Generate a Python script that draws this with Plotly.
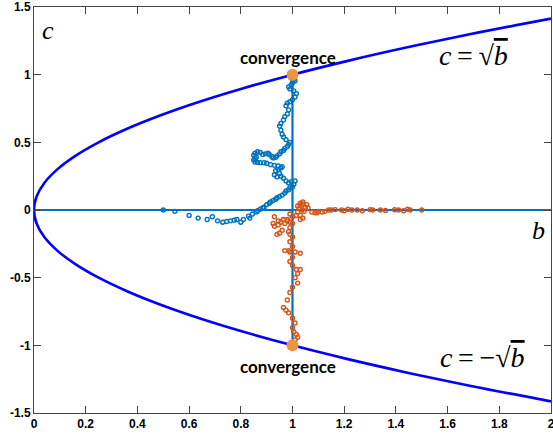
import plotly.graph_objects as go

# ---- data ----
blue_b = [0.50,0.545,0.60,0.635,0.67,0.69,0.71,0.73,0.745,0.76,0.775,0.785,0.80,0.81,0.83,0.835,0.845,0.86,0.865,0.875,
          0.885,0.89,0.90,0.91,0.915,0.925,0.935,0.94,0.95,0.96,0.97,0.975,0.985,0.99,1.0,1.005,1.01,0.995,0.985,0.975,
          0.965,0.955,0.95,0.94,0.93,0.935,0.945,0.955,0.96,0.945,0.93,0.915,0.90,0.89,0.875,0.865,0.855,0.85,0.855,0.86,
          0.85,0.855,0.865,0.875,0.885,0.895,0.905,0.91,0.92,0.925,0.935,0.94,0.95,0.955,0.965,0.97,0.98,0.985,0.99,0.975,
          0.965,0.96,0.955,0.95,0.955,0.965,0.97,0.98,0.985,0.975,0.98,0.99,1.0,1.01,1.015,1.005,0.99,0.985,0.995,1.0,
          1.01,1.005,0.995,1.0,1.005,1.0]
blue_c = [0.0,-0.01,-0.04,-0.06,-0.07,-0.05,-0.08,-0.09,-0.085,-0.08,-0.075,-0.07,-0.09,-0.07,-0.045,-0.06,-0.03,-0.015,-0.005,0.005,
          0.015,0.02,0.04,0.05,0.06,0.07,0.08,0.09,0.10,0.11,0.125,0.14,0.15,0.165,0.17,0.19,0.215,0.21,0.20,0.215,
          0.235,0.25,0.27,0.245,0.26,0.29,0.30,0.31,0.32,0.325,0.33,0.335,0.345,0.35,0.35,0.352,0.355,0.37,0.38,0.39,
          0.405,0.42,0.43,0.425,0.41,0.415,0.42,0.41,0.395,0.385,0.39,0.40,0.415,0.43,0.44,0.455,0.47,0.485,0.50,0.52,
          0.54,0.56,0.59,0.62,0.64,0.665,0.69,0.71,0.74,0.77,0.79,0.80,0.815,0.835,0.86,0.88,0.895,0.91,0.925,0.94,
          0.955,0.965,0.975,0.985,0.99,0.995]

orange_b = [1.50,1.455,1.445,1.43,1.41,1.395,1.36,1.34,1.31,1.30,1.27,1.25,1.23,1.215,1.20,1.19,1.165,1.15,1.14,1.125,
            1.115,1.10,1.095,1.087,1.075,1.06,1.055,1.04,1.03,1.02,1.025,1.037,1.045,1.05,1.04,1.03,1.02,1.03,1.04,1.03,
            1.015,1.0,0.99,0.98,0.965,0.955,0.945,0.93,0.925,0.93,0.945,0.94,0.95,0.96,0.97,0.965,0.98,0.99,1.0,0.99,
            0.985,0.99,1.0,0.99,1.0,0.985,0.97,0.99,1.01,1.03,1.0,0.99,1.0,1.015,1.03,1.02,1.01,1.02,1.0,0.99,
            0.98,0.965,0.975,0.985,1.0,1.01,1.0,1.005,1.015,1.02,1.01,1.0,1.0]
orange_c = [0.0,0.0,0.005,-0.005,0.0,0.002,-0.003,0.0,0.0,0.003,-0.005,0.0,0.0,0.005,-0.005,0.0,0.003,0.0,0.0,-0.01,
            -0.015,-0.01,-0.02,-0.02,-0.015,0.015,0.04,0.06,0.05,0.03,0.01,0.0,-0.01,0.02,0.045,0.035,-0.015,-0.04,-0.06,-0.07,
            -0.04,-0.05,-0.03,-0.07,-0.07,-0.09,-0.08,-0.05,-0.10,-0.12,-0.11,-0.18,-0.17,-0.15,-0.10,-0.07,-0.08,-0.09,-0.10,-0.13,
            -0.16,-0.18,-0.20,-0.235,-0.27,-0.30,-0.30,-0.31,-0.31,-0.32,-0.35,-0.38,-0.41,-0.44,-0.44,-0.47,-0.50,-0.54,-0.57,-0.61,
            -0.665,-0.72,-0.74,-0.76,-0.80,-0.835,-0.87,-0.90,-0.92,-0.94,-0.96,-0.98,-0.99]

curve_c = [-1.414,-1.3,-1.2,-1.1,-1.0,-0.9,-0.8,-0.7,-0.6,-0.5,-0.4,-0.3,-0.2,-0.1,0.0,
           0.1,0.2,0.3,0.4,0.5,0.6,0.7,0.8,0.9,1.0,1.1,1.2,1.3,1.414]
curve_b = [2.0,1.69,1.44,1.21,1.0,0.81,0.64,0.49,0.36,0.25,0.16,0.09,0.04,0.01,0.0,
           0.01,0.04,0.09,0.16,0.25,0.36,0.49,0.64,0.81,1.0,1.21,1.44,1.69,2.0]

conv_b = [1.0, 1.0]
conv_c = [1.0, -1.0]

x_ticks = [0, 0.2, 0.4, 0.6, 0.8, 1, 1.2, 1.4, 1.6, 1.8, 2]
x_tick_text = ["0", "0.2", "0.4", "0.6", "0.8", "1", "1.2", "1.4", "1.6", "1.8", "2"]
y_ticks = [-1.5, -1, -0.5, 0, 0.5, 1, 1.5]
y_tick_text = ["-1.5", "-1", "-0.5", "0", "0.5", "1", "1.5"]

BLUE = "#0072BD"
ORANGE = "#D95319"

fig = go.Figure()
# reference lines
fig.add_trace(go.Scatter(x=[0, 2], y=[0, 0], mode="lines", line=dict(color=BLUE, width=2.2), hoverinfo="skip"))
fig.add_trace(go.Scatter(x=[1, 1], y=[-1, 1], mode="lines", line=dict(color=BLUE, width=2.2), hoverinfo="skip"))
# parabola
fig.add_trace(go.Scatter(x=curve_b, y=curve_c, mode="lines", line=dict(color="#0000FF", width=2.6, shape="spline")))
# paths
fig.add_trace(go.Scatter(x=blue_b, y=blue_c, mode="markers",
                         marker=dict(symbol="circle-open", size=4, color=BLUE, line=dict(width=1.4, color=BLUE))))
fig.add_trace(go.Scatter(x=orange_b, y=orange_c, mode="markers",
                         marker=dict(symbol="circle-open", size=4, color=ORANGE, line=dict(width=1.4, color=ORANGE))))
fig.add_trace(go.Scatter(x=conv_b, y=conv_c, mode="markers",
                         marker=dict(symbol="circle", size=12, color="#EC9446")))

serif = "Liberation Serif"
ann = []
ann.append(dict(x=0.983, y=1.13, text="<b>convergence</b>", showarrow=False,
                font=dict(family="Lato", size=17, color="black")))
ann.append(dict(x=0.983, y=-1.155, text="<b>convergence</b>", showarrow=False,
                font=dict(family="Lato", size=17, color="black")))
ann.append(dict(x=1.70, y=1.14, text="<i>c</i>\u2009=\u2009√<span style='text-decoration:overline'><i>b</i></span>", showarrow=False,
                font=dict(family=serif, size=28, color="black")))
ann.append(dict(x=1.735, y=-1.09, text="<i>c</i>\u2009=\u2009−√<span style='text-decoration:overline'><i>b</i></span>", showarrow=False,
                font=dict(family=serif, size=28, color="black")))
ann.append(dict(x=1.95, y=-0.15, text="<i>b</i>", showarrow=False, font=dict(family=serif, size=26, color="black")))
ann.append(dict(x=0.055, y=1.33, text="<i>c</i>", showarrow=False, font=dict(family=serif, size=26, color="black")))

axis_common = dict(showline=True, linecolor="#444", linewidth=1, mirror="ticks", ticks="inside", ticklen=7,
                   tickcolor="#444", showgrid=False, zeroline=False, automargin=False, ticklabeloverflow="allow",
                   tickfont=dict(family="Liberation Sans", size=12, color="black"))

fig.update_layout(
    width=553, height=439,
    margin=dict(l=34, r=2, t=7, b=26),
    paper_bgcolor="white", plot_bgcolor="white",
    showlegend=False,
    annotations=ann,
    xaxis=dict(range=[0, 2], tickvals=x_ticks, ticktext=["<b>%s</b>" % t for t in x_tick_text], **axis_common),
    yaxis=dict(range=[-1.5, 1.5], tickvals=y_ticks, ticktext=["<b>%s</b>" % t for t in y_tick_text], **axis_common),
)

fig.write_html("out.html", config={"displayModeBar": False},
               post_script="document.body.style.margin='0';document.body.style.overflow='hidden';")
